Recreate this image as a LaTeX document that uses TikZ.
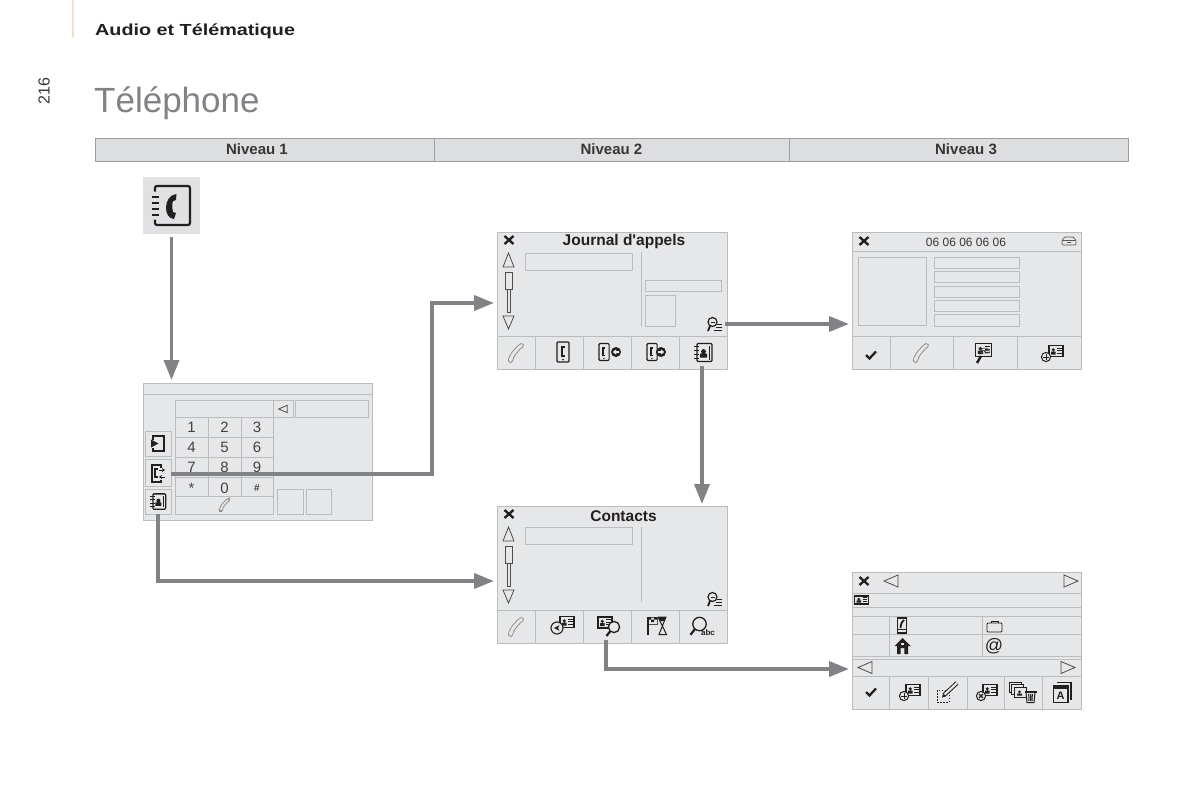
\documentclass[tikz,border=0pt]{standalone}
\usepackage{fontspec}
\setmainfont{Liberation Sans}
\newfontfamily\headfont[FakeStretch=1.235]{Liberation Sans}
\usetikzlibrary{arrows.meta,positioning,calc}
\definecolor{scrfill}{RGB}{230,231,232}
\definecolor{scrline}{RGB}{186,188,190}
\definecolor{barfill}{RGB}{221,222,224}
\definecolor{barline}{RGB}{155,157,160}
\definecolor{flowgray}{RGB}{128,130,133}
\definecolor{titlegray}{RGB}{128,130,133}
\definecolor{ink}{RGB}{35,31,32}
\definecolor{tabtan}{RGB}{245,225,190}
\tikzset{
  screen/.style={draw=scrline,line width=1pt,fill=scrfill,inner sep=0pt,outer sep=0pt},
  tile/.style={screen,draw=none,fill=barfill!90!white},
  rule/.style={draw=scrline,line width=.9pt},
  slot/.style={draw=scrline,line width=1pt,fill=scrfill},
  spot/.style={inner sep=0pt,outer sep=0pt,minimum size=22pt},
  barcell/.style={draw=barline,line width=1pt,fill=barfill,inner sep=0pt,outer sep=0pt,minimum height=23pt},
  barlabel/.style={inner sep=0pt,font=\fontsize{15}{17}\selectfont\bfseries,text=ink!90},
  key/.style={inner sep=0pt,font=\fontsize{15}{17}\selectfont,text=ink!85},
  scrtitle/.style={inner sep=0pt,font=\fontsize{15.5}{18}\selectfont\bfseries,text=ink},
  flow/.style={-{Triangle[width=15pt,length=20pt]},line width=3.6pt,color=flowgray},
  thick ink/.style={draw=ink,line width=1.2pt},
  thin ink/.style={draw=ink!80,line width=.8pt},
  % small glyphs used on the screens
  handset/.pic={
    \draw[draw=ink!55,line width=.7pt,fill=scrfill,rounded corners=1.5pt] (-8,6.5) -- (-4,-1) -- (3,-8.5)
      -- (6.5,-10) -- (8,-6.5) -- (5,-5) -- (-1,2) -- (-3,6) -- (-3.5,9.5) -- (-7,9.5) -- cycle;},
  crossmark/.pic={\draw[draw=ink,line width=2.3pt] (-4.5,-4) -- (4.5,4) (-4.5,4) -- (4.5,-4);},
  checkmark/.pic={\draw[draw=ink,line width=2.3pt] (-5,0) -- (-1.5,3.5) -- (5,-3.5);},
  scrollbar/.pic={
    \draw[thin ink] (-5.5,-24) -- (5.5,-24) -- (0,-38) -- cycle;
    \draw[thin ink] (-3.5,-19) rectangle (3.5,-2);
    \draw[thin ink] (-1.5,-2) rectangle (1.5,21);
    \draw[thin ink] (-5.5,25) -- (5.5,25) -- (0,38) -- cycle;},
  lenslist/.pic={
    \draw[thick ink] (-1.5,-2) circle (4.5);
    \draw[draw=ink,line width=.9pt] (-3.5,-2) -- (.5,-2);
    \draw[draw=ink,line width=1.8pt] (-4,2) -- (-6,7);
    \draw[draw=ink,line width=.8pt] (3,0) -- (8,0) (1.5,3) -- (8,3) (0,6) -- (8,6);},
  bookperson/.pic={
    \draw[draw=ink,line width=1.3pt,rounded corners=1pt] (-6,-9) rectangle (9,9);
    \foreach \ty in {-6,-2,2,6} \draw[draw=ink,line width=1.2pt] (-9,\ty) -- (-4,\ty);
    \fill[ink] (-3,5) rectangle (4,1) (.5,-1) circle (2.4);
    \draw[draw=ink,line width=1.6pt] (6.5,-7) -- (6.5,7);},
  phonerect/.pic={
    \draw[draw=ink,line width=1.2pt,rounded corners=1pt] (-6,-10) rectangle (6,10);
    \draw[draw=ink,line width=1.8pt] (1.5,-5) -- (-1,-5) -- (-1,4) -- (1.5,4);
    \fill[ink] (0,7.6) circle (.9);},
  roundin/.pic={\fill[ink] (0,0) circle (5);
    \fill[scrfill] (-3.2,0) -- (0,-2.6) -- (0,-1) -- (3,-1) -- (3,1) -- (0,1) -- (0,2.6) -- cycle;},
  roundout/.pic={\fill[ink] (0,0) circle (5);
    \fill[scrfill] (3.2,0) -- (0,-2.6) -- (0,-1) -- (-3,-1) -- (-3,1) -- (0,1) -- (0,2.6) -- cycle;},
  idcard/.pic={
    \draw[draw=ink,line width=1.1pt,fill=scrfill] (-7,-5.5) rectangle (7,5.5);
    \fill[ink] (-5,3.5) rectangle (-.5,.5) (-2.7,-1.2) circle (1.7);
    \draw[draw=ink,line width=.8pt] (1,-3) -- (5.5,-3) (1,-.5) -- (5.5,-.5) (1,2) -- (5.5,2);},
  plusring/.pic={\draw[draw=ink,line width=1pt,fill=scrfill] (0,0) circle (4.6);
    \draw[draw=ink,line width=1pt] (-2.6,0) -- (2.6,0) (0,-2.6) -- (0,2.6);},
  timesring/.pic={\draw[draw=ink,line width=1pt,fill=scrfill] (0,0) circle (4.6);
    \draw[draw=ink,line width=1.1pt] (-2,-2) -- (2,2) (-2,2) -- (2,-2);},
  sendring/.pic={\draw[draw=ink,line width=1.1pt,fill=scrfill] (0,0) circle (6);
    \fill[ink] (-3,0) -- (2.5,-2.8) -- (1,0) -- (2.5,2.8) -- cycle;},
  magnifier/.pic={
    \draw[draw=ink,line width=1.3pt,fill=scrfill] (0,0) circle (5.6);
    \draw[draw=ink,line width=2.2pt] (-3.8,4.2) -- (-7.5,9);},
  carfront/.pic={
    \draw[draw=ink!75,line width=.7pt,rounded corners=1pt] (-7,-1) -- (-4.5,-4.5) -- (4.5,-4.5) -- (7,-1) -- (7,3.5) -- (-7,3.5) -- cycle;
    \draw[draw=ink!75,line width=.7pt] (-7,-1) -- (7,-1) (-2,1.2) -- (2,1.2);},
  dialbook/.pic={
    \draw[draw=ink,line width=2.2pt,rounded corners=2pt] (-16.5,-14) -- (-16.5,-19.5) -- (18.5,-19.5) -- (18.5,19.5) -- (-16.5,19.5) -- (-16.5,14);
    \foreach \ty in {-8.5,-2.5,3.5,9.5} \draw[draw=ink,line width=2.2pt] (-20,\ty) -- (-13,\ty);
    \fill[ink] (5,-11.5) .. controls (-2,-11) and (-5.5,-4) .. (-5.5,2) .. controls (-5.5,8) and (-3,13) .. (2.5,13.5)
      -- (4.5,7.5) -- (1.5,6.5) .. controls (.5,2) and (.5,-2) .. (1.5,-4.5) -- (4.5,-5.5) -- cycle;},
  exitdoor/.pic={
    \draw[draw=ink,line width=1.2pt] (-5,-4) -- (-5,-7.5) -- (6,-7.5) -- (6,7.5) -- (-5,7.5) -- (-5,4);
    \fill[ink] (-7,-4) -- (.5,0) -- (-7,4) -- cycle;},
  logarrows/.pic={
    \draw[draw=ink,line width=1.2pt] (-6,-8.5) rectangle (3,8.5);
    \fill[scrfill] (1.5,-6) rectangle (4.5,6);
    \draw[draw=ink,line width=1.5pt] (-.5,-4.5) -- (-3,-4.5) -- (-3,3.5) -- (-.5,3.5);
    \draw[draw=ink,line width=.9pt,-{Stealth[length=3pt,width=4pt]}] (1,-3.5) -- (7,-3.5);
    \draw[draw=ink,line width=.9pt,{Stealth[length=3pt,width=4pt]}-] (1,3.5) -- (7,3.5);},
  flagglass/.pic={
    \draw[thin ink] (-9,-9) rectangle (0,-2);
    \fill[ink] (-9,-9) rectangle (-6,-6.5) (-3,-9) rectangle (0,-6.5) (-6,-6.5) rectangle (-3,-4);
    \draw[draw=ink,line width=1.1pt] (-9,-9) -- (-9,9);
    \draw[draw=ink,line width=1pt] (1,-9) -- (9,-9) -- (2,8.5) -- (9.5,8.5) -- (1,-9);
    \fill[ink] (1,-9) -- (9,-9) -- (7,-5) -- (3,-5) -- cycle;},
  editbox/.pic={
    \draw[draw=ink,line width=1pt,dash pattern=on 1.5pt off 1.5pt] (-10,-2) rectangle (2,10);
    \draw[draw=ink,line width=4.2pt] (-3,3) -- (10,-9);
    \draw[draw=scrfill,line width=2.2pt] (-2.5,2.5) -- (10,-9);
    \fill[ink] (-5,5.5) -- (-4,1.8) -- (-1.2,4.4) -- cycle;},
  stackbin/.pic={
    \foreach \ts in {-5,-2.5,0}
      \draw[draw=ink,line width=1pt,fill=scrfill] (-7+\ts-3,-5.5+\ts) rectangle (5+\ts-3,4.5+\ts);
    \fill[ink] (-7,3) rectangle (-2,1) (-4.5,-.7) circle (1.5);
    \draw[draw=ink,line width=1pt,fill=scrfill] (2,-.5) -- (11,-.5) -- (10,10) -- (3,10) -- cycle;
    \draw[draw=ink,line width=1pt] (4.7,1.5) -- (4.9,8.5) (6.5,1.5) -- (6.5,8.5) (8.3,1.5) -- (8.1,8.5);
    \draw[draw=ink,line width=1.1pt] (.5,-.5) -- (12.5,-.5);},
  stackletter/.pic={
    \draw[draw=ink,line width=1.2pt] (-5,-10) -- (9,-10) -- (9,7);
    \draw[draw=ink,line width=1.2pt,fill=scrfill] (-8.5,-6.5) rectangle (6,10);
    \fill[ink] (-8.5,-6.5) rectangle (6,-3.5);},
  mobilepic/.pic={
    \draw[draw=ink,line width=1.1pt] (-4.5,-7.5) rectangle (4.5,7.5);
    \draw[draw=ink,line width=.9pt] (-4.5,4) -- (4.5,4);
    \draw[draw=ink,line width=1.8pt] (2,-5.5) .. controls (-1,-3) and (-1.5,0) .. (-1.5,2.5);},
  casepic/.pic={
    \draw[draw=ink,line width=.9pt,rounded corners=1pt] (-7.5,-3.5) rectangle (7.5,5.5);
    \draw[draw=ink,line width=.9pt] (-3.5,-3.5) -- (-3.5,-5.5) -- (3.5,-5.5) -- (3.5,-3.5);},
  housepic/.pic={
    \fill[ink] (-8,0) -- (0,-8) -- (8,0) -- (5.5,0) -- (5.5,8) -- (1.8,8) -- (1.8,2) -- (-1.8,2) -- (-1.8,8) -- (-5.5,8) -- (-5.5,0) -- cycle;
    \fill[scrfill] (-1.3,-3.5) rectangle (1.3,-1);},
  lefttri/.pic={\draw[thin ink] (7,-6) -- (7,6) -- (-7,0) -- cycle;},
  righttri/.pic={\draw[thin ink] (-7,-6) -- (-7,6) -- (7,0) -- cycle;}
}
\begin{document}
\begin{tikzpicture}[x=1pt,y=-1pt]
  \useasboundingbox (0,0) rectangle (1200,800);

  % page head
  \draw[draw=tabtan,line width=2pt] (72.5,0) -- (72.5,37);
  \node[anchor=base west,inner sep=0pt,text=ink,font=\headfont\fontsize{16}{18}\selectfont\bfseries] (chapter) at (95,35.5) {Audio et Télématique};
  \node[anchor=base west,inner sep=0pt,text=titlegray,font=\fontsize{35}{40}\selectfont] (pagetitle) at (94,112) {Téléphone};
  \node[rotate=90,inner sep=0pt,text=ink!90,font=\fontsize{16}{18}\selectfont] (folio) at (44,91) {216};

  % level bar
  \node[barcell,minimum width=339pt,anchor=north west] (level1) at (95,138) {};
  \node[barcell,minimum width=355pt,anchor=north west] (level2) at (434,138) {};
  \node[barcell,minimum width=339pt,anchor=north west] (level3) at (789,138) {};
  \node[barlabel] (level1text) at (257,149.5) {Niveau 1};
  \node[barlabel] (level2text) at (611.5,149.5) {Niveau 2};
  \node[barlabel] (level3text) at (966,149.5) {Niveau 3};

  % phone book key
  \node[tile,minimum width=57pt,minimum height=57pt] (dialkey) at (171.5,205.5) {};
  \pic at (dialkey) {dialbook};

  % keypad screen
  \node[screen,minimum width=229pt,minimum height=137pt,anchor=north west] (keypad) at (143,383) {};
  \draw[rule] (143,394) -- (372,394);
  \draw[slot] (175,400) rectangle (273,514);
  \foreach \ky in {417,437,457,477,496} \draw[rule] (175,\ky) -- (273,\ky);
  \foreach \kx in {208,241} \draw[rule] (\kx,417) -- (\kx,496);
  \draw[slot] (273,400) rectangle (293,417);
  \draw[slot] (295,400) rectangle (368,417);
  \draw[slot] (277,489) rectangle (303,514);
  \draw[slot] (306,489) rectangle (331,514);
  \pic[scale=.62] at (283,409) {lefttri};
  \foreach \txt/\kx/\ky [count=\n] in {1/191.5/427,2/224.5/427,3/257/427,4/191.5/447,5/224.5/447,6/257/447,7/191.5/467,8/224.5/467,9/257/467,*/191.5/488,0/224.5/488}
    \node[key] (digit\n) at (\kx,\ky) {\txt};
  \node[key,font=\fontsize{10}{12}\selectfont\bfseries] (digit12) at (257,488) {\#};
  \pic[scale=.68] at (224.5,505) {handset};
  \node[screen,slot,minimum width=26pt,minimum height=25pt] (keyexit) at (158,443.5) {};
  \node[screen,slot,minimum width=26pt,minimum height=27pt] (keylog) at (158,472.5) {};
  \node[screen,slot,minimum width=26pt,minimum height=25pt] (keybook) at (158,501.5) {};
  \pic at (keyexit) {exitdoor};
  \pic at (158,473.5) {logarrows};
  \pic[scale=.85] at (keybook) {bookperson};

  % call log screen
  \node[screen,minimum width=230pt,minimum height=137pt,anchor=north west] (journal) at (497,232) {};
  \draw[rule] (497,336) -- (727,336);
  \foreach \bx in {535,583,631,679} \draw[rule] (\bx,336) -- (\bx,369);
  \draw[rule] (641,252) -- (641,327);
  \draw[slot] (525,253) rectangle (632,270);
  \draw[slot] (645,280) rectangle (721,291);
  \draw[slot] (645,295) rectangle (675,326);
  \node[scrtitle] (journaltitle) at (624,241.5) {Journal d\textquotesingle appels};
  \pic at (509,240) {crossmark};
  \pic at (508.5,291) {scrollbar};
  \node[spot] (journallens) at (714,324) {};
  \pic at (journallens) {lenslist};
  \pic at (516,353) {handset};
  \pic at (563,352) {phonerect};
  \pic[scale=.85] at (604,352) {phonerect};
  \pic at (616,352) {roundin};
  \pic[scale=.85] at (652,352) {phonerect};
  \pic at (661,352) {roundout};
  \node[spot,minimum width=48pt,minimum height=33pt] (journalbook) at (703,352.5) {};
  \pic at (journalbook) {bookperson};

  % caller detail screen
  \node[screen,minimum width=229pt,minimum height=137pt,anchor=north west] (detail) at (852,232) {};
  \draw[rule] (852,251) -- (1081,251);
  \draw[rule] (852,336) -- (1081,336);
  \foreach \bx in {890,953,1017} \draw[rule] (\bx,336) -- (\bx,369);
  \draw[slot] (858,257) rectangle (926,325);
  \foreach \fy/\fz in {257/268,271/282,286/297,300/311,314/326}
    \draw[slot] (934,\fy) rectangle (1019,\fz);
  \node[inner sep=0pt,text=ink!90,font=\fontsize{12}{14}\selectfont] (detailnumber) at (966,242) {06 06 06 06 06};
  \pic at (864,241) {crossmark};
  \pic at (1069,241.5) {carfront};
  \pic at (871,355) {checkmark};
  \pic at (921,353) {handset};
  \pic[scale=1.15] at (983.5,350) {idcard};
  \pic[scale=.6] at (985,351) {carfront};
  \draw[draw=ink,line width=2.4pt] (981,356) -- (977,363);
  \pic at (1056,351) {idcard};
  \pic at (1046,357) {plusring};

  % contacts screen
  \node[screen,minimum width=230pt,minimum height=137pt,anchor=north west] (contacts) at (497,506) {};
  \draw[rule] (497,610) -- (727,610);
  \foreach \bx in {535,583,631,679} \draw[rule] (\bx,610) -- (\bx,643);
  \draw[rule] (641,527) -- (641,602);
  \draw[slot] (525,527) rectangle (632,544);
  \node[scrtitle] (contactstitle) at (623.5,516) {Contacts};
  \pic at (509,514) {crossmark};
  \pic at (508.5,565) {scrollbar};
  \pic at (714,599) {lenslist};
  \pic at (516,627) {handset};
  \pic at (567,622) {idcard};
  \pic at (557,628) {sendring};
  \node[spot,minimum width=48pt,minimum height=33pt] (contactsfind) at (607,626.5) {};
  \pic at (605,622.5) {idcard};
  \pic at (614,627) {magnifier};
  \pic at (657,626) {flagglass};
  \pic[scale=1.2] at (699.5,624) {magnifier};
  \node[inner sep=0pt,text=ink,font=\fontsize{8}{9}\selectfont\bfseries] (abclabel) at (708,633) {abc};

  % contact record screen
  \node[screen,minimum width=229pt,minimum height=137pt,anchor=north west] (record) at (852,572) {};
  \foreach \ry in {593,607,616,634,656,659,676} \draw[rule] (852,\ry) -- (1081,\ry);
  \foreach \rx in {889,982} \draw[rule] (\rx,616) -- (\rx,656);
  \foreach \bx in {889,928,967,1004,1042} \draw[rule] (\bx,676) -- (\bx,709);
  \pic at (864,581) {crossmark};
  \pic at (891,581) {lefttri};
  \pic at (1071,581) {righttri};
  \pic at (865,667.5) {lefttri};
  \pic at (1068,667.5) {righttri};
  \pic[xscale=1,yscale=.72] at (861.5,600) {idcard};
  \pic at (902,625.5) {mobilepic};
  \pic at (994.5,626.5) {casepic};
  \pic at (902.5,646) {housepic};
  \node[inner sep=0pt,text=ink,font=\fontsize{18}{20}\selectfont] (atsign) at (994,646) {@};
  \pic at (871,692) {checkmark};
  \pic at (913,690) {idcard};
  \pic at (904,696) {plusring};
  \pic at (947,692) {editbox};
  \pic at (990,690) {idcard};
  \pic at (981,696) {timesring};
  \pic at (1024,692.5) {stackbin};
  \pic at (1062,692.5) {stackletter};
  \node[inner sep=0pt,text=ink,font=\fontsize{11}{12}\selectfont\bfseries] (stackA) at (1060.5,696) {A};

  % connectors between the screens
  \coordinate (journalin) at (494,303);
  \coordinate (contactsin) at (494,581);
  \coordinate (detailin) at (849,324);
  \coordinate (recordin) at (849,669);
  \draw[flow,shorten <=3pt,shorten >=3pt] (dialkey.south) -- (dialkey.south |- keypad.north);
  \draw[flow] ([yshift=-1.5pt]keylog.east) -- (432,474) -- (432,303) -- (journalin);
  \draw[flow] (keybook.south) |- (contactsin);
  \draw[flow] (journallens.east) -- (detailin);
  \draw[flow,shorten <=-3pt,shorten >=2pt] ([xshift=-1pt]journalbook.south) -- ([xshift=-1pt]journalbook.south |- contacts.north);
  \draw[flow,shorten <=-3pt] ([xshift=-1pt]contactsfind.south) |- (recordin);
\end{tikzpicture}
\end{document}
